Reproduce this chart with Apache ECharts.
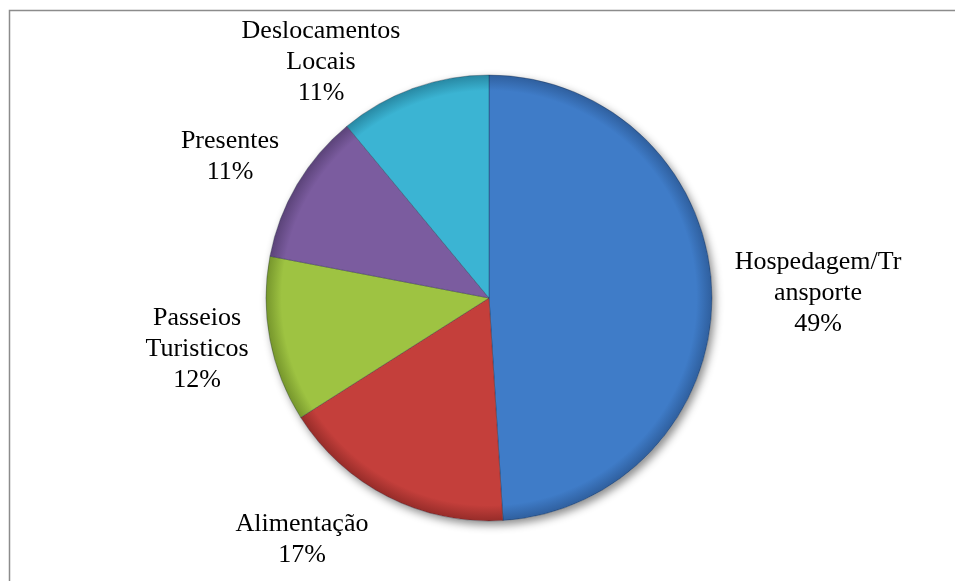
<!DOCTYPE html>
<html>
<head>
<meta charset="utf-8">
<script src="https://cdn.jsdelivr.net/npm/echarts@6/dist/echarts.min.js"></script>
<style>
  html, body { margin: 0; padding: 0; background: #ffffff; }
  #chart { width: 955px; height: 581px; }
</style>
</head>
<body>
<div id="chart"></div>
<script>
// Spending categories and their shares (%)
const categories = ['Hospedagem/Tr\nansporte', 'Alimentação', 'Passeios\nTuristicos', 'Presentes', 'Deslocamentos\nLocais'];
const shares = [49, 17, 12, 11, 11];

// Slice colours: [body, rim]
const sliceColors = [
  ['#3f7cc8', '#2f5f9e'],
  ['#c43f3b', '#962c29'],
  ['#9ec342', '#76962c'],
  ['#7b5c9f', '#5b4379'],
  ['#3bb4d3', '#2888a3']
];

const CENTER = [489, 298];
const RADIUS = 223;

// Label block centres, placed around the pie
const labelCenters = [[818, 293], [302, 540], [197, 349], [230, 157], [321, 62]];

function sliceStyle(c) {
  return {
    color: {
      type: 'radial', x: CENTER[0], y: CENTER[1], r: RADIUS, global: true,
      colorStops: [
        { offset: 0, color: c[0] },
        { offset: 0.93, color: c[0] },
        { offset: 1, color: c[1] }
      ]
    },
    borderColor: 'rgba(20,30,50,0.4)',
    borderWidth: 0.8
  };
}

const chart = echarts.init(document.getElementById('chart'), null, { renderer: 'canvas' });
const total = shares.reduce((a, b) => a + b, 0);

chart.setOption({
  backgroundColor: '#ffffff',
  animation: false,
  graphic: [{
    type: 'rect',
    shape: { x: 9.5, y: 10.5, width: 1000, height: 1000 },
    style: { fill: 'none', stroke: '#8c8c8c', lineWidth: 1.5 },
    silent: true, z: 0
  }],
  series: [
    {
      // drop shadow underneath the whole disc
      type: 'pie',
      silent: true,
      center: CENTER,
      radius: RADIUS,
      z: 1,
      label: { show: false },
      labelLine: { show: false },
      itemStyle: {
        color: '#ffffff',
        shadowColor: 'rgba(0,0,0,0.45)',
        shadowBlur: 9,
        shadowOffsetX: 3,
        shadowOffsetY: 4
      },
      data: [{ value: total, name: '' }]
    },
    {
      type: 'pie',
      center: CENTER,
      radius: RADIUS,
      startAngle: 90,
      clockwise: true,
      z: 2,
      avoidLabelOverlap: false,
      percentPrecision: 0,
      label: {
        show: true,
        position: 'outside',
        formatter: '{b}\n{d}%',
        fontFamily: '"Liberation Serif", "Times New Roman", serif',
        fontSize: 26,
        lineHeight: 31,
        color: '#000000',
        align: 'center'
      },
      labelLine: { show: false },
      labelLayout: function (params) {
        const p = labelCenters[params.dataIndex];
        return { x: p[0], y: p[1], align: 'center', verticalAlign: 'middle' };
      },
      data: categories.map((name, i) => ({
        name: name,
        value: shares[i],
        itemStyle: sliceStyle(sliceColors[i])
      }))
    }
  ]
});
</script>
</body>
</html>
